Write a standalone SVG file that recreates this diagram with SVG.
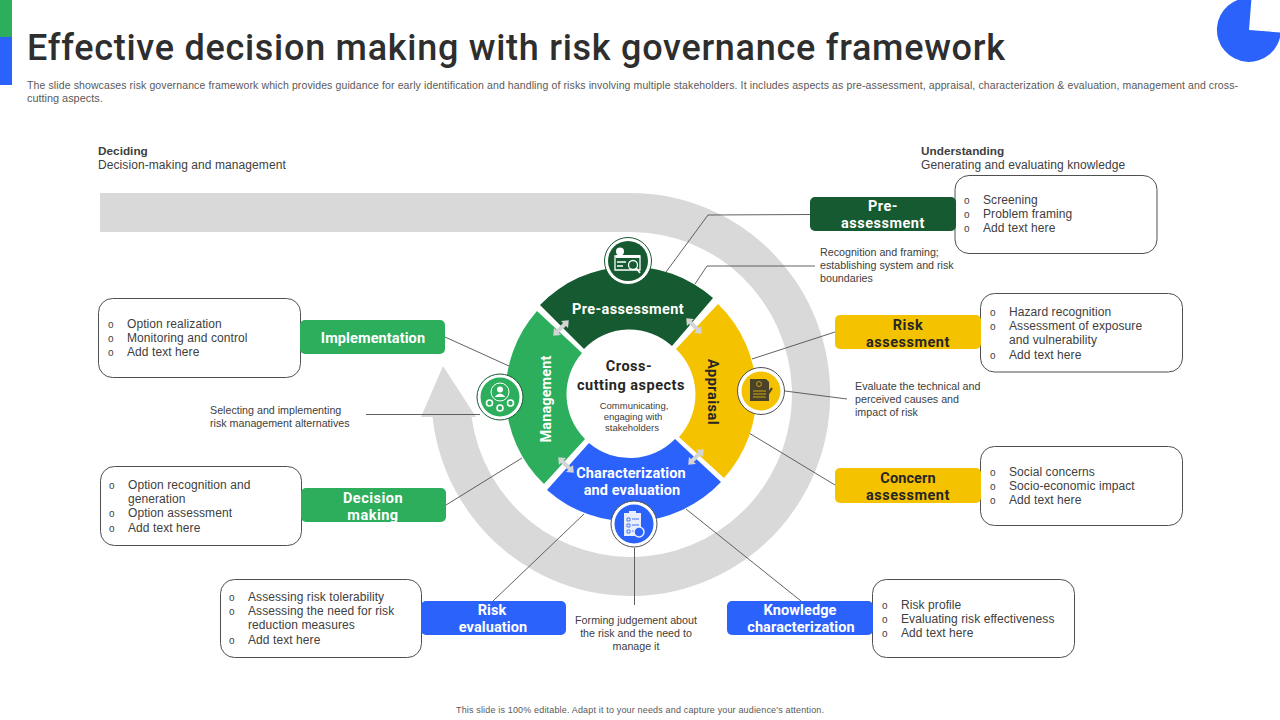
<svg xmlns="http://www.w3.org/2000/svg" width="1280" height="720" viewBox="0 0 1280 720">
<defs>
<g id="dbl"><path d="M-11,0 L-5,-5 L-5,-2 L5,-2 L5,-5 L11,0 L5,5 L5,2 L-5,2 L-5,5 Z" fill="#d4d4d4"/></g>
</defs>
<style>
.b{font-family:"Liberation Sans",Arial,sans-serif;font-size:12px;letter-spacing:.08px;fill:#404040}
.s{font-family:"Liberation Sans",Arial,sans-serif;font-size:10.7px;fill:#404040}
.t{font-family:"Liberation Sans",Arial,sans-serif;font-size:9.5px;fill:#404040;text-anchor:middle}
.o{font-family:"Liberation Sans",Arial,sans-serif;font-size:10px;fill:#404040}
.l{font-family:Roboto,"Liberation Sans",sans-serif;font-size:14.5px;font-weight:700;letter-spacing:.1px;text-anchor:middle}
.m{letter-spacing:.5px}
.w{fill:#fff}.k{fill:#262626}
.box{fill:#fff;stroke:#505050;stroke-width:1}
.c{fill:none;stroke:#505050;stroke-width:.9}
.dg{fill:#155a30}.g{fill:#2cae5c}.y{fill:#f5c200}.bl{fill:#2a62fb}
</style>
<rect x="0" y="0" width="12" height="37" class="g"/>
<rect x="0" y="37" width="12" height="48" class="bl"/>
<path d="M1249,30 L1251.5,-2 A32,32 0 1 0 1280.8,32.5 Z" class="bl"/>
<text x="27" y="60" font-family="Roboto,'Liberation Sans',sans-serif" font-size="36" font-weight="500" fill="#2e2e2e" textLength="978">Effective decision making with risk governance framework</text>
<text x="27" y="89" font-family="'Liberation Sans',Arial,sans-serif" font-size="10.5" fill="#595959" textLength="1211">The slide showcases risk governance framework which provides guidance for early identification and handling of risks involving multiple  stakeholders. It includes aspects as pre-assessment, appraisal, characterization &amp; evaluation, management  and cross-</text>
<text x="27" y="102" font-family="'Liberation Sans',Arial,sans-serif" font-size="10.9" fill="#595959">cutting aspects.</text>
<text x="98" y="155" font-family="'Liberation Sans',Arial,sans-serif" font-size="11.8" font-weight="700" fill="#404040">Deciding</text>
<text x="98" y="169" class="b">Decision-making and management</text>
<text x="921" y="155" font-family="'Liberation Sans',Arial,sans-serif" font-size="11.8" font-weight="700" fill="#404040">Understanding</text>
<text x="921" y="169" class="b">Generating and evaluating knowledge</text>

<path id="cycle-arrow" d="M100,193 L631,193 A199.500,201.500 0 1 1 432.500,417 L421,417 L443,366 L476,417 L471.500,417 A161,162.500 0 1 0 631,232 L100,232 Z" fill="#d9d9d9"/>

<g id="connectors">
<path class="c" d="M810,214.500 L708,215 L666,272"/>
<path class="c" d="M815,266 L707,266 L695,284"/>
<path class="c" d="M835,332 L752,359"/>
<path class="c" d="M785,391 L847,399"/>
<path class="c" d="M835,485 L749,433"/>
<path class="c" d="M801,601 L686,509"/>
<path class="c" d="M634.500,548 L634.500,605"/>
<path class="c" d="M493,601 L584,514"/>
<path class="c" d="M446,505 L522,458"/>
<path class="c" d="M445,337 L509,366"/>
<path class="c" d="M366,414.500 L480,414.500"/>
</g>

<g id="ring">
<path class="dg" d="M540,305 A125,125 0 0 1 713,298 L672,346 A63,63 0 0 0 584,349 Z"/>
<path class="g" d="M537,311 L582,353 A63,63 0 0 0 585,439 L544,484 A125,125 0 0 1 537,311 Z"/>
<path class="y" d="M718,304 A125,125 0 0 1 724,478 L679,437 A63,63 0 0 0 676,349 Z"/>
<path class="bl" d="M589,443 A63,63 0 0 0 675,439 L721,482 A125,125 0 0 1 547,490 Z"/>
<use href="#dbl" transform="translate(561,328) rotate(-45)"/>
<use href="#dbl" transform="translate(694,326) rotate(45)"/>
<use href="#dbl" transform="translate(566,465) rotate(45)"/>
<use href="#dbl" transform="translate(696,457) rotate(-45)"/>
<text x="628" y="314" class="l m w" style="letter-spacing:.35px">Pre-assessment</text>
<text transform="translate(551,399) rotate(-90)" class="l w">Management</text>
<text transform="translate(708,392) rotate(90)" class="l m k">Appraisal</text>
<text x="631" y="478" class="l w">Characterization</text>
<text x="632" y="495" class="l w">and evaluation</text>
<text x="629" y="371" class="l m k">Cross-</text>
<text x="631" y="390" class="l m k">cutting aspects</text>
<text x="634" y="409" class="t">Communicating,</text>
<text x="633" y="420" class="t">engaging  with</text>
<text x="632" y="431" class="t">stakeholders</text>
</g>

<g id="icon-pre">
<circle cx="628" cy="261" r="23.500" fill="#fff" stroke="#155a30"/>
<circle cx="628" cy="261" r="20" class="dg"/>
<circle cx="620" cy="251.500" r="4" fill="#fff"/>
<path d="M615,256 H640 V270 H615 Z" fill="none" stroke="#fff" stroke-width="1.300"/>
<rect x="616" y="255" width="24" height="3" fill="#fff"/>
<path d="M617,262 H626 M617,266 H623" stroke="#fff" stroke-width="1.300"/>
<circle cx="633" cy="265" r="4.500" class="dg" stroke="#fff" stroke-width="1.300"/>
<path d="M636,268 L640,273" stroke="#fff" stroke-width="1.600"/>
</g>
<g id="icon-mgmt">
<circle cx="500" cy="397" r="23" fill="#fff" stroke="#155a30"/>
<circle cx="500" cy="397" r="19.500" class="g"/>
<circle cx="500" cy="392" r="9" fill="none" stroke="#fff"/>
<circle cx="500" cy="389.500" r="3" fill="#fff"/>
<path d="M494.500,397 Q500,390 505.500,397 Z" fill="#fff"/>
<circle cx="489.500" cy="403" r="3" fill="none" stroke="#fff" stroke-width="1.600"/>
<circle cx="500" cy="408" r="3" fill="none" stroke="#fff" stroke-width="1.600"/>
<circle cx="510.500" cy="403" r="3" fill="none" stroke="#fff" stroke-width="1.600"/>
</g>
<g id="icon-appr">
<circle cx="761" cy="391" r="23.500" fill="#fff" stroke="#505050"/>
<circle cx="761" cy="391" r="19.500" class="y"/>
<path d="M750,379 H766 L769,382 V401 H750 Z" fill="#4a432a"/>
<path d="M753,391 H766 M753,394 H766 M753,397 H766" stroke="#f5c200" stroke-width=".8"/>
<circle cx="759" cy="384" r="2.500" fill="none" stroke="#f5c200" stroke-width=".7"/>
<path d="M766,397 L772,388" stroke="#4a432a" stroke-width="2.200"/>
</g>
<g id="icon-char">
<circle cx="634" cy="524" r="23" fill="#fff" stroke="#505050"/>
<circle cx="634" cy="524" r="19.500" class="bl"/>
<rect x="624" y="513" width="17" height="23" fill="#e8eefc"/>
<rect x="629" y="511" width="7" height="3" fill="#e8eefc"/>
<path d="M627,518 H630 V521 H627 Z M627,524 H630 V527 H627 Z M627,530 H630 V533 H627 Z" fill="none" stroke="#2a62fb" stroke-width=".8"/>
<path d="M632,519 H639 M632,525 H639 M632,531 H636" stroke="#2a62fb" stroke-width=".9"/>
<circle cx="639" cy="532" r="5" fill="#2a62fb" stroke="#e8eefc" stroke-width="1.500"/>
</g>

<g id="node-pre">
<rect x="955" y="175.500" width="202" height="78" rx="14" class="box"/>
<rect x="810" y="197" width="146" height="34" rx="5" class="dg"/>
<text x="883" y="211" class="l m w">Pre-</text><text x="883" y="228" class="l m w">assessment</text>
<text x="964" y="204" class="o">o</text><text x="964" y="218" class="o">o</text><text x="964" y="232" class="o">o</text>
<text x="983" y="204" class="b">Screening</text><text x="983" y="218" class="b">Problem framing</text><text x="983" y="232" class="b">Add text here</text>
</g>
<text x="820" y="256" class="s">Recognition and framing;</text>
<text x="820" y="269" class="s">establishing system and risk</text>
<text x="820" y="282" class="s">boundaries</text>

<g id="node-risk">
<rect x="980.500" y="293.500" width="202" height="78.500" rx="14" class="box"/>
<rect x="835" y="315" width="146" height="34" rx="5" class="y"/>
<text x="908" y="330" class="l m k">Risk</text><text x="908" y="347" class="l m k">assessment</text>
<text x="990" y="316" class="o">o</text><text x="990" y="330" class="o">o</text><text x="990" y="359" class="o">o</text>
<text x="1009" y="316" class="b">Hazard recognition</text><text x="1009" y="330" class="b">Assessment of exposure</text><text x="1009" y="344" class="b">and vulnerability</text><text x="1009" y="359" class="b">Add text here</text>
</g>
<text x="855" y="390" class="s">Evaluate the technical and</text>
<text x="855" y="403" class="s">perceived causes and</text>
<text x="855" y="416" class="s">impact of risk</text>

<g id="node-concern">
<rect x="980.500" y="446.500" width="202" height="79" rx="14" class="box"/>
<rect x="835" y="468" width="146" height="35" rx="5" class="y"/>
<text x="908" y="483" class="l k">Concern</text><text x="908" y="500" class="l m k">assessment</text>
<text x="990" y="476" class="o">o</text><text x="990" y="490" class="o">o</text><text x="990" y="504" class="o">o</text>
<text x="1009" y="476" class="b">Social concerns</text><text x="1009" y="490" class="b">Socio-economic impact</text><text x="1009" y="504" class="b">Add text here</text>
</g>

<g id="node-knowledge">
<rect x="872.500" y="579.500" width="202" height="78" rx="14" class="box"/>
<rect x="727" y="601" width="146" height="34" rx="5" class="bl"/>
<text x="800" y="615" class="l w">Knowledge</text><text x="801" y="632" class="l w">characterization</text>
<text x="882" y="609" class="o">o</text><text x="882" y="623" class="o">o</text><text x="882" y="637" class="o">o</text>
<text x="901" y="609" class="b">Risk profile</text><text x="901" y="623" class="b">Evaluating risk effectiveness</text><text x="901" y="637" class="b">Add text here</text>
</g>
<text x="636" y="624" class="s" text-anchor="middle">Forming judgement about</text>
<text x="636" y="637" class="s" text-anchor="middle">the risk and the need to</text>
<text x="636" y="650" class="s" text-anchor="middle">manage it</text>

<g id="node-riskeval">
<rect x="220.500" y="579.500" width="201" height="78" rx="14" class="box"/>
<rect x="421" y="601" width="145" height="34" rx="5" class="bl"/>
<text x="492" y="615" class="l w">Risk</text><text x="493" y="632" class="l w">evaluation</text>
<text x="229" y="601" class="o">o</text><text x="229" y="615" class="o">o</text><text x="229" y="644" class="o">o</text>
<text x="248" y="601" class="b">Assessing risk tolerability</text><text x="248" y="615" class="b">Assessing the need for risk</text><text x="248" y="629" class="b">reduction measures</text><text x="248" y="644" class="b">Add text here</text>
</g>

<g id="node-decision">
<rect x="100.500" y="466.500" width="201" height="79" rx="14" class="box"/>
<rect x="301" y="488" width="145" height="34" rx="5" class="g"/>
<text x="373" y="503" class="l m w">Decision</text><text x="373" y="520" class="l m w">making</text>
<text x="109" y="489" class="o">o</text><text x="109" y="517" class="o">o</text><text x="109" y="532" class="o">o</text>
<text x="128" y="489" class="b">Option recognition and</text><text x="128" y="503" class="b">generation</text><text x="128" y="517" class="b">Option assessment</text><text x="128" y="532" class="b">Add text here</text>
</g>

<g id="node-impl">
<rect x="98.500" y="298.500" width="202" height="79" rx="14" class="box"/>
<rect x="300" y="320" width="145" height="34" rx="5" class="g"/>
<text x="373" y="343" class="l w">Implementation</text>
<text x="108" y="328" class="o">o</text><text x="108" y="342" class="o">o</text><text x="108" y="356" class="o">o</text>
<text x="127" y="328" class="b">Option realization</text><text x="127" y="342" class="b">Monitoring and control</text><text x="127" y="356" class="b">Add text here</text>
</g>
<text x="210" y="414" class="s">Selecting and implementing</text>
<text x="210" y="427" class="s">risk management  alternatives</text>

<text x="456" y="713" font-family="'Liberation Sans',Arial,sans-serif" font-size="9" fill="#595959" textLength="368">This slide is 100% editable. Adapt it to your needs and capture your audience's attention.</text>
</svg>
